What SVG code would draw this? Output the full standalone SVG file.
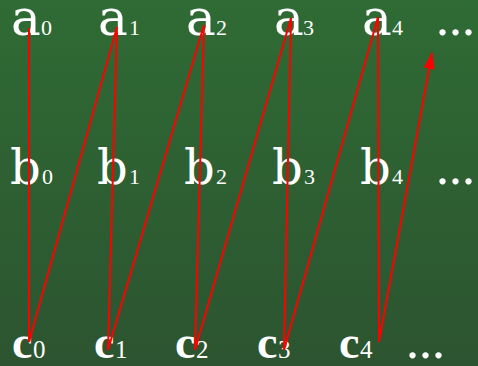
<svg xmlns="http://www.w3.org/2000/svg" width="478" height="366" viewBox="0 0 478 366">
<defs>
<linearGradient id="bg" x1="0" y1="0" x2="0" y2="1">
<stop offset="0" stop-color="#2f6b34"/>
<stop offset="1" stop-color="#2c5430"/>
</linearGradient>
<marker id="ah" markerWidth="17" markerHeight="12" refX="16" refY="6" orient="auto" markerUnits="userSpaceOnUse" viewBox="0 0 17 12">
<path d="M0 0.5 L17 6 L0 11.5 Z" fill="#ff0000"/>
</marker>
<style>
.m{font-family:"DejaVu Serif","Liberation Serif",serif;font-size:50px;fill:#ffffff}
.b{font-family:"DejaVu Serif","Liberation Serif",serif;font-size:48px;fill:#ffffff}
.c{font-family:"Liberation Serif","DejaVu Serif",serif;font-size:46px;fill:#ffffff;font-weight:bold}
.s{font-family:"Liberation Serif","DejaVu Serif",serif;font-size:22px;fill:#ffffff}
.sc{font-family:"Liberation Serif","DejaVu Serif",serif;font-size:25px;fill:#ffffff}
.d{font-family:"Liberation Serif","DejaVu Serif",serif;font-size:52px;fill:#ffffff}
.ln{fill:none;stroke:#ff0000;stroke-width:2}
</style>
</defs>
<rect width="478" height="366" fill="url(#bg)"/>
<g id="a0"><text class="m" x="11" y="35">a</text><text class="s" x="41" y="35">0</text></g>
<g id="a1"><text class="m" x="98" y="35">a</text><text class="s" x="129" y="35">1</text></g>
<g id="a2"><text class="m" x="186" y="35">a</text><text class="s" x="216" y="35">2</text></g>
<g id="a3"><text class="m" x="274" y="35">a</text><text class="s" x="303" y="35">3</text></g>
<g id="a4"><text class="m" x="362" y="35">a</text><text class="s" x="392" y="35">4</text></g>
<g id="adots"><text class="d" x="436" y="35">...</text></g>
<g id="b0"><text class="b" x="10" y="184">b</text><text class="s" x="42" y="184">0</text></g>
<g id="b1"><text class="b" x="97" y="184">b</text><text class="s" x="129" y="184">1</text></g>
<g id="b2"><text class="b" x="184" y="184">b</text><text class="s" x="216" y="184">2</text></g>
<g id="b3"><text class="b" x="272" y="184">b</text><text class="s" x="304" y="184">3</text></g>
<g id="b4"><text class="b" x="360" y="184">b</text><text class="s" x="392" y="184">4</text></g>
<g id="bdots"><text class="d" x="436" y="184">...</text></g>
<g id="c0"><text class="c" x="12" y="358">c</text><text class="sc" x="33" y="358">0</text></g>
<g id="c1"><text class="c" x="94" y="358">c</text><text class="sc" x="115" y="358">1</text></g>
<g id="c2"><text class="c" x="175" y="358">c</text><text class="sc" x="196" y="358">2</text></g>
<g id="c3"><text class="c" x="257" y="358">c</text><text class="sc" x="278" y="358">3</text></g>
<g id="c4"><text class="c" x="339" y="358">c</text><text class="sc" x="360" y="358">4</text></g>
<g id="cdots"><text class="d" x="406" y="358">...</text></g>
<g id="connectors">
<polyline class="ln" points="29,28 29,342 117,27 108,350 204,25 195,350 291,18 284,350 378,17 379,342"/>
<line class="ln" x1="379" y1="342" x2="432" y2="53" marker-end="url(#ah)"/>
</g>
</svg>
